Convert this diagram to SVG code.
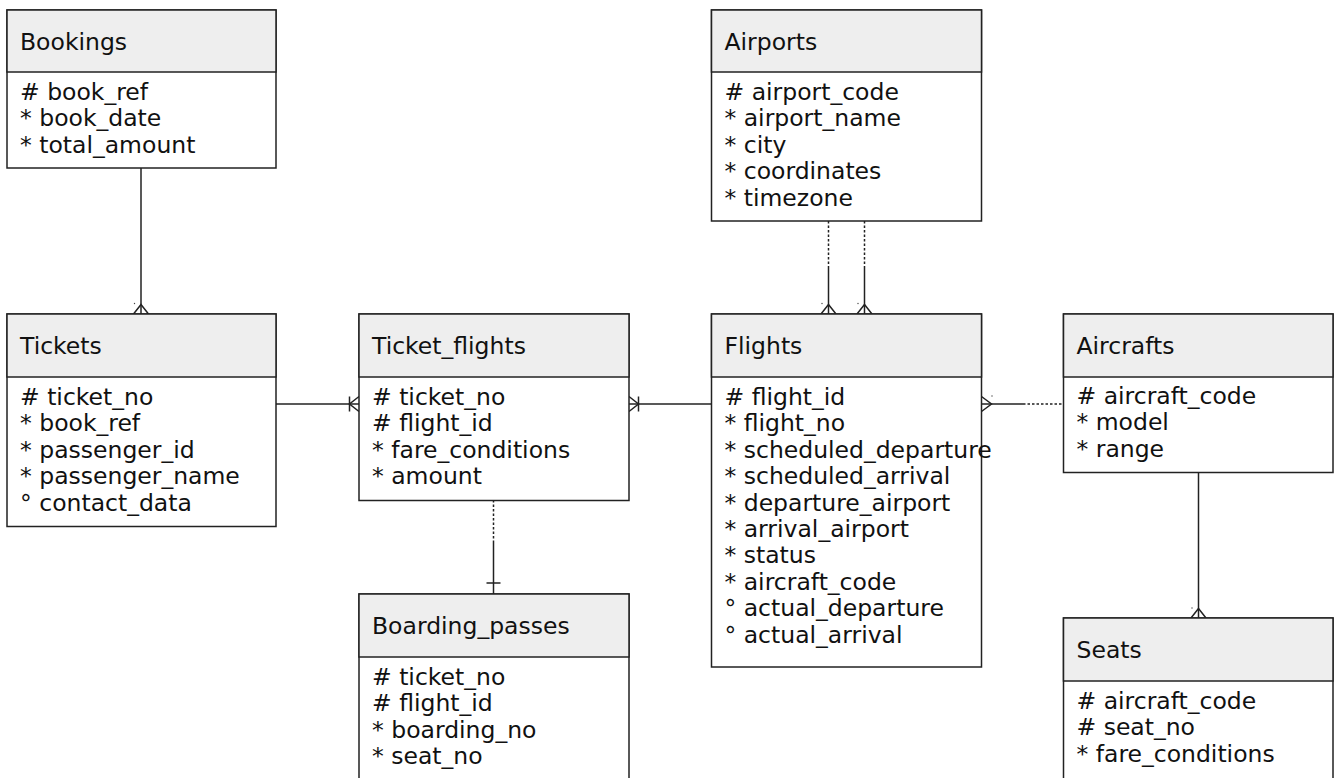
<svg xmlns="http://www.w3.org/2000/svg" width="1334" height="778" viewBox="0 0 1334 778">
<style>
.box{fill:#fff;stroke:#222;stroke-width:1.5}
.hdr{fill:#eeeeee;stroke:#222;stroke-width:1.5}
.t{font-family:"DejaVu Sans",sans-serif;font-size:23.5px;fill:#111}
.ln{fill:none;stroke:#222;stroke-width:1.5}
.dot{fill:none;stroke:#222;stroke-width:1.5;stroke-dasharray:2.5 2}
.sp{fill:#444}
</style>
<rect width="1334" height="778" fill="#fff"/>

<g id="connectors">
  <!-- Bookings -> Tickets -->
  <line class="ln" x1="141" y1="168" x2="141" y2="314"/>
  <polyline class="ln" points="133.5,314 141,304.5 148.5,314"/>
  <circle class="sp" cx="134.5" cy="303.5" r="0.7"/>
  <!-- Tickets -> Ticket_flights -->
  <line class="ln" x1="276" y1="404" x2="359" y2="404"/>
  <polyline class="ln" points="359,396.5 349.5,404 359,411.5"/>
  <line class="ln" x1="349.5" y1="396.5" x2="349.5" y2="411.5"/>
  <!-- Flights -> Ticket_flights -->
  <line class="ln" x1="629" y1="404" x2="711.5" y2="404"/>
  <polyline class="ln" points="629,396.5 638.5,404 629,411.5"/>
  <line class="ln" x1="638.5" y1="396.5" x2="638.5" y2="411.5"/>
  <!-- Airports -> Flights (two) -->
  <line class="dot" x1="828.5" y1="221" x2="828.5" y2="268"/>
  <line class="ln" x1="828.5" y1="268" x2="828.5" y2="314"/>
  <polyline class="ln" points="821,314 828.5,304.5 836,314"/>
  <circle class="sp" cx="822" cy="303.5" r="0.7"/>
  <line class="dot" x1="864.5" y1="221" x2="864.5" y2="268"/>
  <line class="ln" x1="864.5" y1="268" x2="864.5" y2="314"/>
  <polyline class="ln" points="857,314 864.5,304.5 872,314"/>
  <circle class="sp" cx="858" cy="303.5" r="0.7"/>
  <!-- Flights -> Aircrafts -->
  <line class="ln" x1="981.5" y1="404" x2="1023" y2="404"/>
  <line class="dot" x1="1023" y1="404" x2="1063.5" y2="404"/>
  <polyline class="ln" points="981.5,396.5 991.5,404 981.5,411.5"/>
  <circle class="sp" cx="992" cy="396" r="0.7"/>
  <!-- Aircrafts -> Seats -->
  <line class="ln" x1="1198.5" y1="472.5" x2="1198.5" y2="618"/>
  <polyline class="ln" points="1191,618 1198.5,608.5 1206,618"/>
  <circle class="sp" cx="1192" cy="608" r="0.7"/>
  <!-- Ticket_flights -> Boarding_passes -->
  <line class="dot" x1="493.5" y1="500" x2="493.5" y2="543"/>
  <line class="ln" x1="493.5" y1="543" x2="493.5" y2="594"/>
  <line class="ln" x1="486.5" y1="583" x2="500.5" y2="583"/>
</g>

<g id="bookings">
  <rect class="box" x="7" y="10" width="269" height="158"/>
  <rect class="hdr" x="7" y="10" width="269" height="62"/>
  <text class="t" x="20" y="50">Bookings</text>
  <text class="t" x="20" y="100">
    <tspan x="20" y="100"># book_ref</tspan>
    <tspan x="20" y="126.4">* book_date</tspan>
    <tspan x="20" y="152.8">* total_amount</tspan>
  </text>
</g>

<g id="airports">
  <rect class="box" x="711.5" y="10" width="270" height="211"/>
  <rect class="hdr" x="711.5" y="10" width="270" height="62"/>
  <text class="t" x="724.5" y="50">Airports</text>
  <text class="t">
    <tspan x="724.5" y="100"># airport_code</tspan>
    <tspan x="724.5" y="126.4">* airport_name</tspan>
    <tspan x="724.5" y="152.8">* city</tspan>
    <tspan x="724.5" y="179.2">* coordinates</tspan>
    <tspan x="724.5" y="205.6">* timezone</tspan>
  </text>
</g>

<g id="tickets">
  <rect class="box" x="7" y="314" width="269" height="212.5"/>
  <rect class="hdr" x="7" y="314" width="269" height="63"/>
  <text class="t" x="20" y="354">Tickets</text>
  <text class="t">
    <tspan x="20" y="405"># ticket_no</tspan>
    <tspan x="20" y="431.4">* book_ref</tspan>
    <tspan x="20" y="457.8">* passenger_id</tspan>
    <tspan x="20" y="484.2">* passenger_name</tspan>
    <tspan x="20" y="510.6">° contact_data</tspan>
  </text>
</g>

<g id="ticket_flights">
  <rect class="box" x="359" y="314" width="270" height="186.5"/>
  <rect class="hdr" x="359" y="314" width="270" height="63"/>
  <text class="t" x="372" y="354">Ticket_flights</text>
  <text class="t">
    <tspan x="372" y="405"># ticket_no</tspan>
    <tspan x="372" y="431.4"># flight_id</tspan>
    <tspan x="372" y="457.8">* fare_conditions</tspan>
    <tspan x="372" y="484.2">* amount</tspan>
  </text>
</g>

<g id="flights">
  <rect class="box" x="711.5" y="314" width="270" height="353"/>
  <rect class="hdr" x="711.5" y="314" width="270" height="63"/>
  <text class="t" x="724.5" y="354">Flights</text>
  <text class="t">
    <tspan x="724.5" y="405"># flight_id</tspan>
    <tspan x="724.5" y="431.4">* flight_no</tspan>
    <tspan x="724.5" y="457.8">* scheduled_departure</tspan>
    <tspan x="724.5" y="484.2">* scheduled_arrival</tspan>
    <tspan x="724.5" y="510.6">* departure_airport</tspan>
    <tspan x="724.5" y="537">* arrival_airport</tspan>
    <tspan x="724.5" y="563.4">* status</tspan>
    <tspan x="724.5" y="589.8">* aircraft_code</tspan>
    <tspan x="724.5" y="616.2">° actual_departure</tspan>
    <tspan x="724.5" y="642.6">° actual_arrival</tspan>
  </text>
</g>

<g id="aircrafts">
  <rect class="box" x="1063.5" y="314" width="269.5" height="158.5"/>
  <rect class="hdr" x="1063.5" y="314" width="269.5" height="63"/>
  <text class="t" x="1076.5" y="354">Aircrafts</text>
  <text class="t">
    <tspan x="1076.5" y="404"># aircraft_code</tspan>
    <tspan x="1076.5" y="430.4">* model</tspan>
    <tspan x="1076.5" y="456.8">* range</tspan>
  </text>
</g>

<g id="boarding_passes">
  <rect class="box" x="359" y="594" width="270" height="200"/>
  <rect class="hdr" x="359" y="594" width="270" height="63"/>
  <text class="t" x="372" y="634">Boarding_passes</text>
  <text class="t">
    <tspan x="372" y="685"># ticket_no</tspan>
    <tspan x="372" y="711.4"># flight_id</tspan>
    <tspan x="372" y="737.8">* boarding_no</tspan>
    <tspan x="372" y="764.2">* seat_no</tspan>
  </text>
</g>

<g id="seats">
  <rect class="box" x="1063.5" y="618" width="269.5" height="180"/>
  <rect class="hdr" x="1063.5" y="618" width="269.5" height="63"/>
  <text class="t" x="1076.5" y="658">Seats</text>
  <text class="t">
    <tspan x="1076.5" y="709"># aircraft_code</tspan>
    <tspan x="1076.5" y="735.4"># seat_no</tspan>
    <tspan x="1076.5" y="761.8">* fare_conditions</tspan>
  </text>
</g>
</svg>
